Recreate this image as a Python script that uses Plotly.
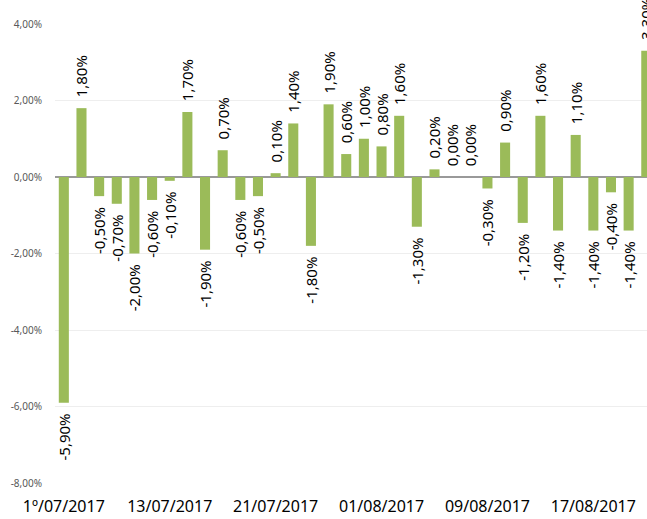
import plotly.graph_objects as go

dates = [
    "1º/07/2017", "06/07/2017", "07/07/2017", "10/07/2017", "11/07/2017", "12/07/2017",
    "13/07/2017", "14/07/2017", "17/07/2017", "18/07/2017", "19/07/2017", "20/07/2017",
    "21/07/2017", "24/07/2017", "25/07/2017", "26/07/2017", "27/07/2017", "28/07/2017",
    "01/08/2017", "02/08/2017", "03/08/2017", "04/08/2017", "07/08/2017", "08/08/2017",
    "09/08/2017", "10/08/2017", "11/08/2017", "14/08/2017", "15/08/2017", "16/08/2017",
    "17/08/2017", "18/08/2017", "21/08/2017", "22/08/2017",
]
values = [
    -5.9, 1.8, -0.5, -0.7, -2.0, -0.6,
    -0.1, 1.7, -1.9, 0.7, -0.6, -0.5,
    0.1, 1.4, -1.8, 1.9, 0.6, 1.0,
    0.8, 1.6, -1.3, 0.2, 0.0, 0.0,
    -0.3, 0.9, -1.2, 1.6, -1.4, 1.1,
    -1.4, -0.4, -1.4, 3.3,
]
shown_ticks = ["1º/07/2017", "13/07/2017", "21/07/2017", "01/08/2017", "09/08/2017", "17/08/2017"]
y_ticks = [-8, -6, -4, -2, 0, 2, 4]


def pct(v):
    return f"{v:.2f}%".replace(".", ",")


PAD = "\u00a0\u00a0"
# rotated text reads bottom-to-top: pad at the end nearest the bar
labels = [(pct(v) + PAD) if v < 0 else (PAD + pct(v)) for v in values]

fig = go.Figure(
    go.Bar(
        x=dates,
        y=values,
        marker=dict(color="#9BBB59", line=dict(width=0)),
        text=labels,
        textposition="outside",
        textangle=-90,
        textfont=dict(family="Noto Sans", size=15, color="#000000"),
        cliponaxis=False,
        constraintext="none",
        hoverinfo="skip",
    )
)

fig.update_layout(
    width=647,
    height=519,
    margin=dict(l=55, r=0, t=24, b=36, autoexpand=False),
    paper_bgcolor="white",
    plot_bgcolor="white",
    showlegend=False,
    bargap=0.43,
    font=dict(family="Noto Sans"),
)

fig.update_xaxes(
    type="category",
    range=[-0.5, 33.04],
    tickmode="array",
    tickvals=shown_ticks,
    ticktext=shown_ticks,
    tickangle=0,
    tickfont=dict(family="Noto Sans", size=16, color="#000000"),
    showgrid=False,
    showline=False,
    ticks="",
    ticklabelstandoff=12,
    automargin=False,
)

fig.update_yaxes(
    range=[-8, 4],
    tickmode="array",
    tickvals=y_ticks,
    ticktext=[pct(v) for v in y_ticks],
    tickfont=dict(family="Noto Sans", size=10, color="#595959"),
    showgrid=True,
    gridcolor="#EEEEEE",
    gridwidth=1,
    zeroline=True,
    zerolinecolor="#999999",
    zerolinewidth=1.5,
    showline=False,
    ticks="",
    ticklabelstandoff=12,
    automargin=False,
)

fig.write_html(
    "out.html",
    config={"displayModeBar": False},
    post_script="document.body.style.margin='0';document.body.style.overflow='hidden';",
)
